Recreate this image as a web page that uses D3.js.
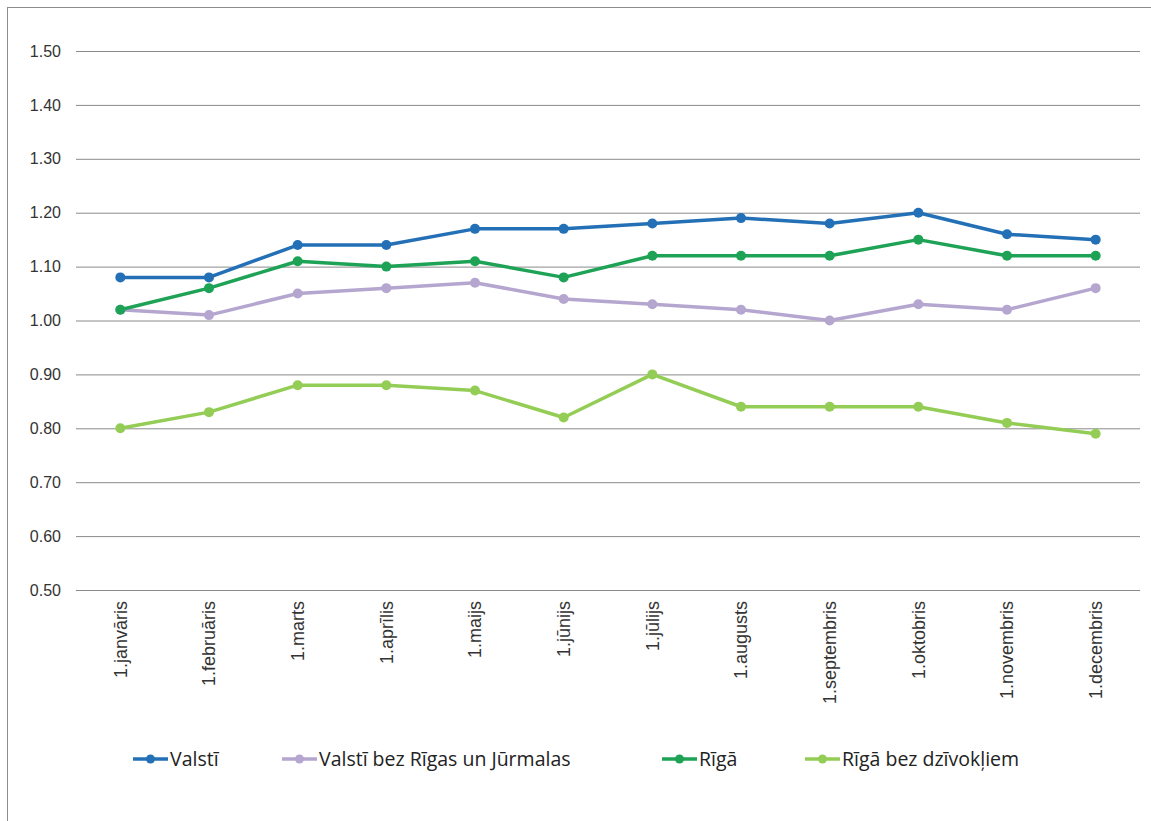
<!DOCTYPE html>
<html>
<head>
<meta charset="utf-8">
<script src="https://cdn.jsdelivr.net/npm/d3@7"></script>
<style>
    body { margin: 0; background: #fff; }
    svg { display: block; font-family: "Open Sans", "Noto Sans", sans-serif; }
</style>
</head>
<body>
<div id="chart"></div>
<script>
// chart data
const months = ["1.janvāris", "1.februāris", "1.marts", "1.aprīlis", "1.maijs", "1.jūnijs",
    "1.jūlijs", "1.augusts", "1.septembris", "1.oktobris", "1.novembris", "1.decembris"];

const valsti = [1.08, 1.08, 1.14, 1.14, 1.17, 1.17, 1.18, 1.19, 1.18, 1.20, 1.16, 1.15];
const valstiBezRigas = [1.02, 1.01, 1.05, 1.06, 1.07, 1.04, 1.03, 1.02, 1.00, 1.03, 1.02, 1.06];
const riga = [1.02, 1.06, 1.11, 1.10, 1.11, 1.08, 1.12, 1.12, 1.12, 1.15, 1.12, 1.12];
const rigaBezDzivokliem = [0.80, 0.83, 0.88, 0.88, 0.87, 0.82, 0.90, 0.84, 0.84, 0.84, 0.81, 0.79];

const seriesNames = ["Valstī", "Valstī bez Rīgas un Jūrmalas", "Rīgā", "Rīgā bez dzīvokļiem"];
const yTicks = [0.5, 0.6, 0.7, 0.8, 0.9, 1.0, 1.1, 1.2, 1.3, 1.4, 1.5];

const series = [
    {name: seriesNames[0], values: valsti, color: "#2370b6"},
    {name: seriesNames[1], values: valstiBezRigas, color: "#b5a6d0"},
    {name: seriesNames[2], values: riga, color: "#1ea356"},
    {name: seriesNames[3], values: rigaBezDzivokliem, color: "#94cd55"}
];

const width = 1151, height = 821;
const margin = {top: 51, right: 11, bottom: 231, left: 76};
const innerW = width - margin.left - margin.right;
const innerH = height - margin.top - margin.bottom;

const svg = d3.select("#chart").append("svg")
    .attr("width", width)
    .attr("height", height);

// outer frame
svg.append("rect")
    .attr("x", 7.5).attr("y", 7.5)
    .attr("width", width + 20).attr("height", height + 20)
    .attr("fill", "none")
    .attr("stroke", "#8c8c8c")
    .attr("stroke-width", 1);

const g = svg.append("g")
    .attr("transform", `translate(${margin.left},${margin.top})`);

const x = d3.scaleBand()
    .domain(months)
    .range([0, innerW]);

const y = d3.scaleLinear()
    .domain([0.5, 1.5])
    .range([innerH, 0]);

// gridlines + y labels
const yAxis = g.append("g")
    .call(d3.axisLeft(y)
        .tickValues(yTicks)
        .tickSize(-innerW)
        .tickPadding(15)
        .tickFormat(d3.format(".2f")));
yAxis.select(".domain").remove();
yAxis.selectAll(".tick line")
    .attr("stroke", "#8a8a8a")
    .attr("stroke-width", 1);
yAxis.selectAll(".tick text")
    .attr("fill", "#333")
    .style("font-size", "16px");

// x labels (rotated)
const xAxis = g.append("g")
    .attr("transform", `translate(0,${innerH})`)
    .call(d3.axisBottom(x).tickSize(0).tickPadding(0));
xAxis.select(".domain").remove();
xAxis.selectAll(".tick text")
    .attr("transform", "rotate(-90)")
    .attr("text-anchor", "end")
    .attr("x", -11)
    .attr("y", 0)
    .attr("dy", "0.35em")
    .attr("fill", "#333")
    .style("font-size", "18px");

const line = d3.line()
    .x((d, i) => x(months[i]) + x.bandwidth() / 2)
    .y(d => y(d));

series.forEach(s => {
    g.append("path")
        .datum(s.values)
        .attr("fill", "none")
        .attr("stroke", s.color)
        .attr("stroke-width", 3.5)
        .attr("stroke-linejoin", "round")
        .attr("d", line);

    g.selectAll(null)
        .data(s.values)
        .enter()
        .append("circle")
        .attr("cx", (d, i) => x(months[i]) + x.bandwidth() / 2)
        .attr("cy", d => y(d))
        .attr("r", 5)
        .attr("fill", s.color);
});

// legend
const legendX = [133, 282, 662, 805];
const legendY = 759;
const legend = svg.append("g");
series.forEach((s, i) => {
    const lg = legend.append("g")
        .attr("transform", `translate(${legendX[i]},${legendY})`);
    lg.append("line")
        .attr("x1", 0).attr("x2", 35)
        .attr("y1", 0).attr("y2", 0)
        .attr("stroke", s.color)
        .attr("stroke-width", 3.5);
    lg.append("circle")
        .attr("cx", 17.5).attr("cy", 0)
        .attr("r", 4.5)
        .attr("fill", s.color);
    lg.append("text")
        .attr("x", 37)
        .attr("y", 0)
        .attr("dy", "0.35em")
        .attr("fill", "#222")
        .style("font-size", "19.5px")
        .text(s.name);
});
</script>
</body>
</html>
